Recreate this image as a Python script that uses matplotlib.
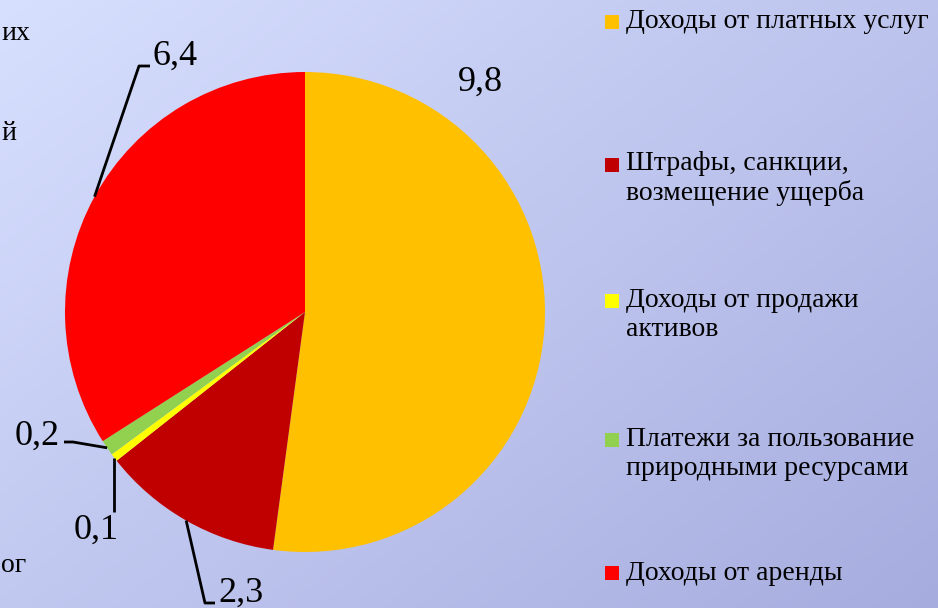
import numpy as np
import matplotlib

matplotlib.use("Agg")
import matplotlib.pyplot as plt
from matplotlib.patches import Rectangle

# data
categories = [
    "Доходы от платных услуг",
    "Штрафы, санкции,\nвозмещение ущерба",
    "Доходы от продажи\nактивов",
    "Платежи за пользование\nприродными ресурсами",
    "Доходы от аренды",
]
values = [9.8, 2.3, 0.1, 0.2, 6.4]
value_labels = ["9,8", "2,3", "0,1", "0,2", "6,4"]
colors = ["#FFC000", "#C00000", "#FFFF00", "#92D050", "#FF0000"]
# fragments of a neighbouring slide element at the left edge
side_texts = ["их", "й", "ог"]

W, H = 938, 608
plt.rcParams["font.family"] = ["Liberation Serif", "DejaVu Serif"]

fig = plt.figure(figsize=(W / 100, H / 100), dpi=100)
ax = fig.add_axes([0, 0, 1, 1])

# diagonal background gradient
yy, xx = np.mgrid[0:H, 0:W]
t = (xx / W * 0.55 + yy / H * 0.45)
c0 = np.array([216, 224, 255]) / 255
c1 = np.array([166, 172, 222]) / 255
bg = c0[None, None, :] * (1 - t[..., None]) + c1[None, None, :] * t[..., None]
ax.imshow(bg, extent=[0, W, 0, H], origin="upper", zorder=0)

cx, cy, r = 305, H - 312, 240
wedges, _ = ax.pie(values, colors=colors, startangle=90, counterclock=False,
                   center=(cx, cy), radius=r, frame=True,
                   wedgeprops=dict(linewidth=0))
for w in wedges:
    w.set_zorder(2)
ax.set_xlim(0, W)
ax.set_ylim(0, H)
ax.set_aspect("equal")
ax.axis("off")


def edge_point(i):
    w = wedges[i]
    ang = np.deg2rad((w.theta1 + w.theta2) / 2)
    return cx + r * np.cos(ang), cy + r * np.sin(ang)


lab_fs = 26
lk = dict(color="black", lw=2, zorder=3, solid_capstyle="butt")

# 9,8 - no leader
ax.text(480, H - 82, value_labels[0], fontsize=lab_fs, ha="center", va="center", zorder=4)

# 2,3
x0, y0 = edge_point(1)
ax.plot([x0, 205, 215], [y0, H - 603, H - 603], **lk)
ax.text(218, H - 593, value_labels[1], fontsize=lab_fs, ha="left", va="center", zorder=4)

# 0,1
x0, y0 = edge_point(2)
ax.plot([x0, x0], [y0, H - 512], **lk)
ax.text(96, H - 530, value_labels[2], fontsize=lab_fs, ha="center", va="center", zorder=4)

# 0,2
x0, y0 = edge_point(3)
ax.plot([x0, 73, 64], [y0, H - 442, H - 442], **lk)
ax.text(60, H - 436, value_labels[3], fontsize=lab_fs, ha="right", va="center", zorder=4)

# 6,4
x0, y0 = edge_point(4)
ax.plot([x0, 139, 150], [y0, H - 66, H - 66], **lk)
ax.text(152, H - 56, value_labels[4], fontsize=lab_fs, ha="left", va="center", zorder=4)

# legend
leg_fs = 20
leg_y = [22, 179, 315, 454, 573]
for name, col, y in zip(categories, colors, leg_y):
    n = name.count("\n") + 1
    top = y - 14 * (n - 1)
    ax.add_patch(Rectangle((605, H - top - 7), 14, 14, facecolor=col, edgecolor="none", zorder=3))
    ax.text(626, H - y, name, fontsize=leg_fs, ha="left", va="center",
            linespacing=1.2, zorder=4)

for s, y in zip(side_texts, [33, 133, 565]):
    ax.text(1, H - y, s, fontsize=leg_fs, ha="left", va="center", zorder=4)

fig.savefig("out.png", dpi=100)
